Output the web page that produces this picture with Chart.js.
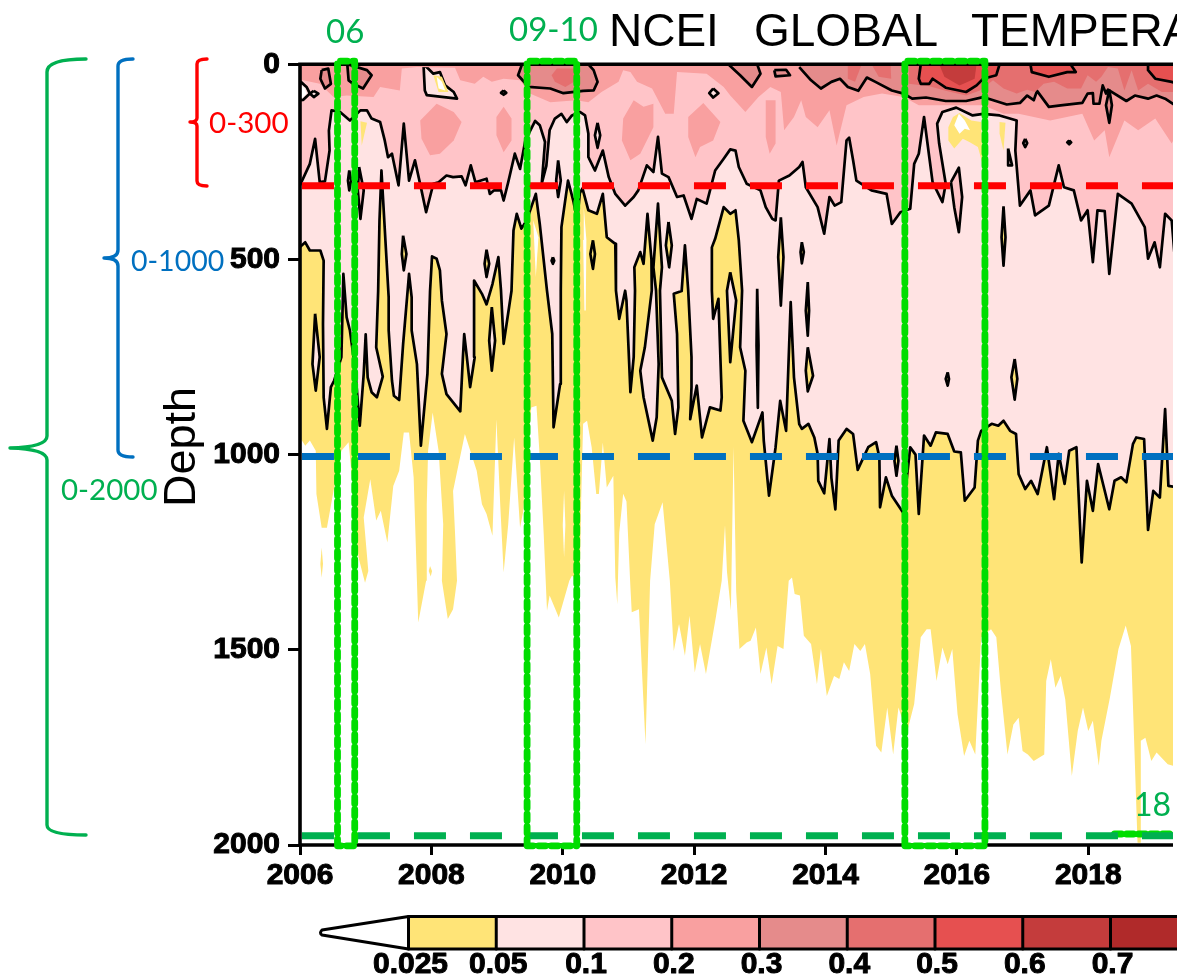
<!DOCTYPE html>
<html>
<head>
<meta charset="utf-8">
<title>NCEI GLOBAL TEMPERATURE</title>
<style>
  html, body { margin: 0; padding: 0; background: #fff; overflow: hidden; }
  canvas { display: block; }
</style>
<script src="https://cdn.jsdelivr.net/npm/chart.js@4.4.0/dist/chart.umd.min.js"></script>
</head>
<body>
<canvas id="depthChart" width="1177" height="977"></canvas>
<script>
// all pairs are [year, depth in m]
const yMax = 2019.29;
const depthTicks = [0, 500, 1000, 1500, 2000];
const barLabels = ['0.025', '0.05', '0.1', '0.2', '0.3', '0.4', '0.5', '0.6', '0.7'];
const barColors = ['#FFE477', '#FFE3E3', '#FFC4C8', '#F9A0A0', '#E58B8B', '#E56F6F', '#E65050', '#C43C3C', '#B02A2A'];

// lower edge of the yellow band (0.025 contour, no line in the picture)
const edge025 = [[2006,956],[2006.08,977],[2006.15,964],[2006.24,990],[2006.25,1101],[2006.33,1187],[2006.41,1187],[2006.51,1093],[2006.63,990],[2006.74,968],[2006.81,1093],[2006.89,1263],[2006.99,1328],[2007.04,1298],[2006.97,1161],[2007.07,1063],[2007.16,1169],[2007.23,1144],[2007.33,1225],[2007.42,1080],[2007.51,1041],[2007.58,943],[2007.66,943],[2007.73,1058],[2007.80,1430],[2007.92,1323],[2007.93,1127],[2007.95,990],[2008.02,892],[2008.11,990],[2008.18,1178],[2008.16,1323],[2008.25,1421],[2008.33,1396],[2008.39,1323],[2008.36,1200],[2008.33,1093],[2008.51,947],[2008.69,1041],[2008.77,1127],[2008.84,1152],[2008.93,1208],[2008.99,909],[2009.05,1135],[2009.10,1302],[2009.17,1178],[2009.26,956],[2009.35,1187],[2009.40,1144],[2009.52,879],[2009.60,875],[2009.65,1007],[2009.71,1204],[2009.76,1400],[2009.80,1361],[2009.94,1417],[2010.1,1323],[2010.14,1310],[2010.26,1323],[2010.28,1120],[2010.31,921],[2010.37,913],[2010.44,981],[2010.51,1101],[2010.55,1101],[2010.61,969],[2010.67,1084],[2010.77,1054],[2010.80,1315],[2010.83,1383],[2010.86,1200],[2010.92,1100],[2010.97,1120],[2011.03,1340],[2011.05,1404],[2011.16,1396],[2011.26,1742],[2011.33,1323],[2011.40,1178],[2011.52,1122],[2011.63,1323],[2011.69,1503],[2011.77,1434],[2011.86,1515],[2011.93,1413],[2012.01,1558],[2012.09,1485],[2012.18,1562],[2012.33,1417],[2012.42,1323],[2012.47,1180],[2012.50,1300],[2012.56,1400],[2012.60,980],[2012.64,1350],[2012.69,1498],[2012.80,1481],[2012.86,1477],[2012.94,1443],[2013.01,1562],[2013.10,1494],[2013.18,1588],[2013.27,1490],[2013.36,1498],[2013.44,1323],[2013.49,1315],[2013.53,1357],[2013.61,1361],[2013.67,1464],[2013.78,1485],[2013.87,1588],[2013.93,1498],[2014.02,1618],[2014.13,1567],[2014.21,1575],[2014.28,1532],[2014.36,1554],[2014.44,1485],[2014.53,1503],[2014.60,1485],[2014.68,1562],[2014.77,1746],[2014.85,1763],[2014.94,1648],[2015.03,1768],[2015.11,1648],[2015.24,1712],[2015.35,1639],[2015.45,1468],[2015.54,1447],[2015.60,1447],[2015.69,1580],[2015.78,1494],[2015.86,1537],[2015.93,1498],[2016.01,1665],[2016.11,1772],[2016.19,1733],[2016.28,1768],[2016.37,1468],[2016.52,1447],[2016.60,1468],[2016.67,1605],[2016.77,1768],[2016.86,1691],[2016.94,1674],[2017.00,1759],[2017.08,1768],[2017.17,1785],[2017.33,1768],[2017.36,1580],[2017.43,1524],[2017.50,1597],[2017.58,1567],[2017.65,1627],[2017.75,1823],[2017.84,1708],[2017.92,1648],[2018.00,1708],[2018.07,1682],[2018.16,1797],[2018.20,1733],[2018.33,1622],[2018.46,1498],[2018.57,1438],[2018.65,1490],[2018.75,1994],[2018.79,1994],[2018.80,1733],[2018.87,1725],[2018.96,1785],[2019.04,1763],[2019.21,1793],[2019.35,1800]];
const yellowBits = [
  [[2006.33,1238],[2006.35,1280],[2006.33,1315],[2006.31,1280]],
  [[2007.98,1285],[2008.01,1298],[2007.99,1312],[2007.96,1298]]
];
const whiteSlits = [
  [[2009.55,400],[2009.59,545],[2009.63,443]],
  [[2010.32,366],[2010.36,450],[2010.35,631],[2010.33,631],[2010.31,450]],
  [[2010.02,1093],[2010.04,1180],[2010.02,1263],[2010.00,1180]]
];

// 0.05 contour, pink above it and yellow below
const contour05 = [[2006,468],[2006.08,456],[2006.15,477],[2006.31,477],[2006.36,503],[2006.35,665],[2006.36,853],[2006.41,934],[2006.47,827],[2006.52,810],[2006.63,750],[2006.65,614],[2006.66,537],[2006.71,648],[2006.76,682],[2006.84,780],[2006.91,926],[2006.97,793],[2007,692],[2007.03,802],[2007.09,840],[2007.17,853],[2007.26,800],[2007.16,725],[2007.19,580],[2007.21,400],[2007.24,272],[2007.30,450],[2007.35,597],[2007.35,682],[2007.40,810],[2007.43,849],[2007.51,860],[2007.57,716],[2007.63,597],[2007.66,537],[2007.70,597],[2007.70,682],[2007.78,768],[2007.84,977],[2007.94,793],[2007.98,580],[2008.01,492],[2008.08,498],[2008.13,528],[2008.16,605],[2008.23,691],[2008.16,793],[2008.23,845],[2008.44,889],[2008.48,750],[2008.50,691],[2008.54,750],[2008.59,827],[2008.66,750],[2008.65,580],[2008.65,554],[2008.77,588],[2008.84,615],[2008.93,563],[2009.02,494],[2009.06,580],[2009.10,716],[2009.22,580],[2009.25,426],[2009.30,383],[2009.37,421],[2009.45,400],[2009.59,332],[2009.65,409],[2009.76,580],[2009.84,691],[2009.86,930],[2009.96,819],[2009.97,580],[2009.98,417],[2010.08,298],[2010.16,349],[2010.22,400],[2010.26,330],[2010.30,318],[2010.39,374],[2010.52,383],[2010.61,332],[2010.67,443],[2010.80,460],[2010.81,580],[2010.86,652],[2010.95,580],[2010.97,605],[2011.03,840],[2011.08,750],[2011.10,580],[2011.09,520],[2011.18,481],[2011.23,511],[2011.29,383],[2011.35,500],[2011.355,580],[2011.25,725],[2011.18,785],[2011.23,853],[2011.37,964],[2011.43,904],[2011.46,768],[2011.42,580],[2011.38,520],[2011.45,357],[2011.51,520],[2011.48,580],[2011.51,802],[2011.66,862],[2011.71,947],[2011.76,879],[2011.74,691],[2011.69,588],[2011.81,581],[2011.86,464],[2011.91,580],[2011.96,750],[2011.96,827],[2011.94,909],[2012.04,823],[2012.12,956],[2012.24,879],[2012.40,887],[2012.42,853],[2012.37,601],[2012.29,652],[2012.27,580],[2012.27,469],[2012.32,447],[2012.45,366],[2012.55,383],[2012.63,374],[2012.68,451],[2012.73,580],[2012.70,725],[2012.78,785],[2012.75,913],[2012.88,968],[2013.04,892],[2013.06,964],[2013.14,1105],[2013.24,981],[2013.31,862],[2013.40,939],[2013.47,609],[2013.52,802],[2013.60,922],[2013.64,934],[2013.74,921],[2013.83,956],[2013.88,998],[2013.89,1067],[2013.98,1099],[2014.06,960],[2014.09,1060],[2014.15,1140],[2014.20,964],[2014.32,934],[2014.42,947],[2014.49,1039],[2014.65,981],[2014.77,968],[2014.82,1007],[2014.83,1135],[2014.92,1058],[2015.01,1105],[2015.18,1148],[2015.29,981],[2015.37,1000],[2015.42,1152],[2015.50,951],[2015.60,977],[2015.68,943],[2015.86,947],[2015.96,992],[2016.06,994],[2016.12,1118],[2016.27,1084],[2016.32,964],[2016.37,939],[2016.53,921],[2016.63,926],[2016.71,913],[2016.81,939],[2016.90,947],[2016.94,1050],[2017.04,1088],[2017.13,1067],[2017.23,1101],[2017.37,981],[2017.48,1114],[2017.55,998],[2017.64,1075],[2017.71,990],[2017.82,981],[2017.90,1276],[2017.98,1067],[2018.07,1144],[2018.15,1024],[2018.32,1140],[2018.40,1067],[2018.50,1058],[2018.58,1071],[2018.68,973],[2018.73,956],[2018.85,960],[2018.91,1193],[2018.99,1093],[2019.09,1110],[2019.17,883],[2019.22,1080],[2019.35,1084]];
const pinkInYellow = [
  [[2006.23,639],[2006.30,750],[2006.24,836],[2006.19,768]],
  [[2008.92,622],[2008.97,708],[2008.92,785],[2008.88,708]],
  [[2012.55,533],[2012.64,605],[2012.55,763],[2012.50,580]]
];
const yellowInPink = [
  [[2007.57,439],[2007.62,486],[2007.58,528],[2007.55,486]],
  [[2008.84,475],[2008.88,511],[2008.84,545],[2008.81,511]],
  [[2009.85,494],[2009.87,503],[2009.85,511],[2009.83,503]],
  [[2010.46,451],[2010.49,486],[2010.46,524],[2010.42,486]],
  [[2011.61,404],[2011.66,464],[2011.62,520],[2011.57,464]],
  [[2013.32,392],[2013.36,494],[2013.32,618],[2013.28,494]],
  [[2013.64,456],[2013.67,481],[2013.64,510],[2013.62,481]],
  [[2012.96,575],[2012.98,720],[2012.97,880],[2012.95,720]],
  [[2013.73,558],[2013.75,631],[2013.73,695],[2013.70,631]],
  [[2013.73,725],[2013.81,798],[2013.73,838],[2013.70,785]],
  [[2016.71,364],[2016.74,443],[2016.71,516],[2016.68,443]],
  [[2015.86,789],[2015.88,806],[2015.86,823],[2015.83,806]],
  [[2016.88,755],[2016.92,806],[2016.88,859],[2016.83,802]],
  [[2015.08,977],[2015.11,1016],[2015.08,1054],[2015.05,1016]]
];

// 0.1 contour, rose above it
const contour10 = [[2006,310],[2006.15,255],[2006.23,191],[2006.30,302],[2006.38,300],[2006.45,221],[2006.44,170],[2006.48,118],[2006.61,122],[2006.76,144],[2006.92,118],[2007.02,118],[2007.09,139],[2007.22,148],[2007.29,195],[2007.34,238],[2007.40,229],[2007.50,310],[2007.58,152],[2007.66,298],[2007.75,246],[2007.85,323],[2007.92,379],[2008.03,306],[2008.11,302],[2008.23,285],[2008.33,289],[2008.46,287],[2008.52,310],[2008.60,259],[2008.67,302],[2008.84,293],[2008.89,332],[2008.95,323],[2009.06,323],[2009.10,349],[2009.17,302],[2009.27,229],[2009.35,268],[2009.43,195],[2009.58,145],[2009.65,156],[2009.73,199],[2009.68,306],[2009.75,260],[2009.80,169],[2009.88,139],[2009.98,127],[2010.06,148],[2010.14,131],[2010.26,122],[2010.34,131],[2010.39,178],[2010.39,238],[2010.49,272],[2010.61,221],[2010.70,289],[2010.80,332],[2010.95,362],[2011.08,340],[2011.15,323],[2011.28,259],[2011.38,276],[2011.45,186],[2011.51,280],[2011.61,289],[2011.74,340],[2011.84,336],[2011.96,396],[2012.04,345],[2012.19,357],[2012.32,272],[2012.45,242],[2012.55,218],[2012.63,221],[2012.68,263],[2012.80,306],[2013.01,323],[2013.09,366],[2013.19,396],[2013.24,400],[2013.29,298],[2013.45,285],[2013.60,263],[2013.65,250],[2013.70,315],[2013.88,366],[2013.98,434],[2014.06,340],[2014.14,362],[2014.24,353],[2014.32,195],[2014.36,188],[2014.42,246],[2014.47,298],[2014.70,323],[2014.93,332],[2015.01,409],[2015.14,379],[2015.29,370],[2015.35,255],[2015.42,229],[2015.50,135],[2015.58,238],[2015.63,302],[2015.78,353],[2015.83,306],[2015.73,203],[2015.70,152],[2015.78,122],[2015.99,111],[2016.24,131],[2016.40,127],[2016.65,131],[2016.91,144],[2016.89,221],[2016.96,362],[2017.12,323],[2017.19,387],[2017.40,362],[2017.55,259],[2017.63,315],[2017.78,323],[2017.89,400],[2017.99,374],[2018.07,507],[2018.14,374],[2018.25,376],[2018.32,537],[2018.45,332],[2018.66,357],[2018.86,417],[2018.91,498],[2019.01,456],[2019.09,520],[2019.17,383],[2019.27,400],[2019.35,563]];
const roseInPink = [
  [[2006.75,272],[2006.78,298],[2006.75,323],[2006.73,298]],
  [[2006.90,263],[2006.97,323],[2006.92,396],[2006.88,323]],
  [[2009.93,246],[2009.97,298],[2009.93,340],[2009.90,298]],
  [[2015.91,302],[2016.03,265],[2016.08,340],[2016.03,430],[2015.96,366]]
];
const pinkInRose = [
  [[2010.53,150],[2010.57,182],[2010.53,214],[2010.49,182]],
  [[2012.29,62],[2012.37,74],[2012.29,85],[2012.23,74]],
  [[2009.10,67],[2009.14,73],[2009.10,78],[2009.06,73]],
  [[2006.21,68],[2006.28,75],[2006.21,84],[2006.15,75]],
  [[2017.04,191],[2017.07,202],[2017.04,212],[2017.01,202]],
  [[2017.71,195],[2017.74,200],[2017.71,205],[2017.68,200]],
  [[2016.78,216],[2016.84,259],[2016.78,259]],
  [[2006,43],[2006.10,58],[2006.15,75],[2006.05,91],[2006,92]],
  [[2007.88,0],[2007.90,67],[2007.93,79],[2008.39,88],[2008.34,71],[2008.21,54],[2008.13,20],[2008.03,24],[2007.95,11]]
];
const yellowCores = [
  [[2008.03,28],[2008.16,32],[2008.26,71],[2008.11,71]],
  [[2015.87,161],[2015.94,135],[2016.04,125],[2016.22,144],[2016.37,148],[2016.39,255],[2016.32,212],[2016.19,199],[2016.09,191],[2015.96,216],[2015.87,195]],
  [[2016.65,148],[2016.74,150],[2016.71,221],[2016.65,178]],
  [[2006.92,146],[2007.02,150],[2006.94,208]]
];
const whiteCores = [
  [[2008.08,32],[2008.16,45],[2008.21,67],[2008.11,62]],
  [[2015.96,156],[2016.03,127],[2016.12,144],[2016.20,169],[2016.12,165],[2016.04,178]],
  [[2006,50],[2006.07,62],[2006.10,75],[2006.04,86],[2006,86]]
];

// 0.2 edge, no line
const edge20 = [[2006,41],[2006.05,41],[2006.30,50],[2006.51,84],[2006.71,80],[2007.12,84],[2007.22,58],[2007.52,67],[2007.55,11],[2007.78,7],[2008.36,9],[2008.44,41],[2008.66,50],[2008.79,32],[2008.92,45],[2009.10,37],[2009.35,41],[2009.50,75],[2009.81,97],[2010.21,92],[2010.39,97],[2010.59,71],[2010.85,45],[2010.92,15],[2011.03,20],[2011.13,45],[2011.36,62],[2011.56,127],[2011.69,127],[2011.74,20],[2012.19,24],[2012.45,58],[2012.55,80],[2012.78,122],[2012.98,84],[2013.16,58],[2013.32,71],[2013.37,169],[2013.52,135],[2013.63,92],[2013.70,135],[2013.88,161],[2014.06,118],[2014.17,208],[2014.32,105],[2014.58,84],[2014.86,75],[2015.19,84],[2015.42,105],[2016.40,105],[2016.71,127],[2016.94,127],[2017.42,144],[2017.91,127],[2018.09,195],[2018.25,169],[2018.32,238],[2018.55,144],[2018.76,169],[2019.02,139],[2019.27,203],[2019.35,178]];
const blobs20 = [
  [[2008.08,101],[2008.34,122],[2008.46,148],[2008.34,195],[2008.13,229],[2007.98,233],[2007.85,191],[2007.83,144]],
  [[2009.10,109],[2009.22,139],[2009.22,195],[2009.10,225],[2008.99,182],[2008.99,135]],
  [[2011.08,92],[2011.23,109],[2011.38,101],[2011.38,161],[2011.18,229],[2011.03,246],[2010.90,195],[2010.92,139]],
  [[2012.14,99],[2012.40,148],[2012.29,195],[2012.09,212],[2012.02,238],[2011.91,186],[2011.91,135]],
  [[2013.09,92],[2013.24,92],[2013.24,203],[2013.15,229],[2013.09,186]]
];

// 0.3 contour
const contour30 = [[2013.60,7],[2013.78,41],[2013.93,62],[2014.09,45],[2014.22,37],[2014.34,58],[2014.50,68],[2014.63,34],[2014.76,45],[2015.01,67],[2015.19,75],[2015.32,88],[2015.53,85],[2015.83,94],[2016.14,94],[2016.40,84],[2016.53,91],[2016.76,103],[2016.96,99],[2017.07,80],[2017.17,92],[2017.22,68],[2017.40,109],[2017.58,105],[2017.91,99],[2017.99,75],[2018.07,74],[2018.08,101],[2018.17,101],[2018.22,54],[2018.27,75],[2018.30,65],[2018.58,94],[2018.71,80],[2018.91,88],[2019.04,80],[2019.17,88],[2019.35,108]];
const blobs30 = [
  [[2006.33,15],[2006.43,11],[2006.47,50],[2006.38,62],[2006.31,37]],
  [[2006.72,0],[2007.02,15],[2007.09,28],[2006.96,62],[2006.81,50],[2006.74,41]],
  [[2009.38,0],[2009.32,28],[2009.48,58],[2009.81,62],[2010.01,74],[2010.31,68],[2010.47,67],[2010.53,45],[2010.47,15],[2010.39,0]],
  [[2012.52,0],[2012.70,28],[2012.88,58],[2013.01,24],[2012.96,0]],
  [[2013.22,15],[2013.40,14],[2013.46,28],[2013.24,31]]
];
const sliver30 = [[2018.32,65],[2018.36,105],[2018.32,150],[2018.27,105]];

// 0.4 patches, no line
const patches40 = [
  [[2009.83,28],[2009.91,11],[2010.19,11],[2010.21,41],[2010.04,58],[2009.88,45]],
  [[2014.34,0],[2014.55,0],[2014.45,45],[2014.34,37]],
  [[2014.70,0],[2014.99,0],[2015.00,37],[2014.81,32]]
];
const edge40 = [[2015.27,50],[2015.58,56],[2015.83,68],[2016.14,80],[2016.35,67],[2016.55,41],[2016.71,62],[2016.91,75],[2017.07,65],[2017.19,71],[2017.32,50],[2017.48,45],[2017.68,62],[2017.89,62],[2017.99,28],[2018.12,45],[2018.20,32],[2018.30,7],[2018.45,11],[2018.55,67],[2018.66,15],[2018.76,67],[2018.91,50],[2019.12,71],[2019.35,71]];

// 0.5 and 0.6 contours
const blobs50 = [
  [[2015.45,0],[2015.42,37],[2015.45,50],[2015.58,50],[2015.63,37],[2015.83,60],[2016.14,71],[2016.30,54],[2016.40,37],[2016.60,28],[2016.65,0]],
  [[2017.12,0],[2017.14,20],[2017.40,32],[2017.68,20],[2017.81,20],[2017.73,0]],
  [[2018.91,0],[2018.91,15],[2019.02,37],[2019.27,45],[2019.35,50],[2019.35,0]]
];
const blob60 = [[2015.73,0],[2015.81,32],[2016.04,54],[2016.27,37],[2016.30,0]];

// picked layers and boxes drawn over the section
const layerDepths = [311, 1005, 1976];
const boxSpans = [[2006.571, 2006.833], [2009.457, 2010.213], [2015.208, 2016.427]];
const box18 = [[2018.40, 1972], [yMax, 1972]];

// ---- datasets
const datasets = [];
function toSurface(edge) {
  return edge.concat([[edge[edge.length - 1][0], -10], [edge[0][0], -10]]);
}
function closed(shape) {
  return shape.concat([shape[0]]);
}
function area(points, color, line) {
  datasets.push({
    data: points,
    showLine: true,
    pointRadius: 0,
    fill: 'shape',
    backgroundColor: color,
    borderColor: '#000',
    borderWidth: line ? 2.7 : 0,
    borderJoinStyle: 'round',
    tension: 0
  });
}
function stroke(points, color, width, extra) {
  datasets.push(Object.assign({
    data: points,
    showLine: true,
    pointRadius: 0,
    fill: false,
    borderColor: color,
    borderWidth: width,
    clip: false,
    tension: 0
  }, extra || {}));
}

const [c025, c05, c10, c20, c30, c40, c50, c60] = barColors;

// painted from the bottom up
area(toSurface(edge025), c025);
whiteSlits.forEach(s => area(closed(s), '#fff'));
yellowBits.forEach(s => area(closed(s), c025));
area(toSurface(contour05), c05, true);
pinkInYellow.forEach(s => area(closed(s), c05, true));
yellowInPink.forEach(s => area(closed(s), c025, true));
area(toSurface(contour10), c10, true);
roseInPink.forEach(s => area(closed(s), c10, true));
pinkInRose.forEach(s => area(closed(s), c05, true));
yellowCores.forEach(s => area(closed(s), c025));
whiteCores.forEach(s => area(closed(s), '#fff'));
area(toSurface(edge20), c20);
blobs20.forEach(s => area(closed(s), c20));
area(toSurface(contour30), c30, true);
blobs30.forEach(s => area(closed(s), c30, true));
area(closed(sliver30), c30, true);
area(toSurface(edge40), c40);
patches40.forEach(s => area(closed(s), c40));
blobs50.forEach(s => area(closed(s), c50, true));
area(toSurface(blob60), c60);

// frame, left open on the right like the picture
stroke([[yMax, 2000], [2006, 2000], [2006, 0], [yMax, 0]], '#000', 3.6);

const layerColors = ['#FF0000', '#0070C0', '#00B050'];
stroke(box18, '#00DD00', 7, { borderDash: [7, 5], borderCapStyle: 'round' });
layerDepths.forEach((d, i) => {
  stroke([[2006.03, d], [yMax, d]], layerColors[i], 7, { borderDash: [32, 24] });
});
boxSpans.forEach(([a, b]) => {
  stroke([[a, 2002], [a, -8], [b, -8], [b, 2002], [a, 2002]], '#00DD00', 6.8, {
    borderDash: [7, 5.5], borderCapStyle: 'round', borderJoinStyle: 'round'
  });
});

// later entries go on top
datasets.forEach((d, i) => { d.order = datasets.length - i; });

// ---- everything outside the axes
function bracketPath(ctx, pts, color) {
  ctx.strokeStyle = color;
  ctx.lineWidth = 3.4;
  ctx.lineCap = 'round';
  ctx.lineJoin = 'round';
  ctx.beginPath();
  pts.forEach((p, i) => {
    if (i === 0) ctx.moveTo(p[0], p[1]);
    else if (p.length === 4) ctx.quadraticCurveTo(p[0], p[1], p[2], p[3]);
    else ctx.lineTo(p[0], p[1]);
  });
  ctx.stroke();
}
function label(ctx, text, x, y, color, font, align) {
  ctx.fillStyle = color;
  ctx.font = font;
  ctx.textAlign = align || 'left';
  ctx.textBaseline = 'middle';
  ctx.fillText(text, x, y);
}

const overlay = {
  id: 'overlay',
  afterDraw(chart) {
    const ctx = chart.ctx;
    ctx.save();

    // title, runs off the page in the reference too
    ctx.fillStyle = '#000';
    ctx.font = '46px "Liberation Sans"';
    ctx.textAlign = 'left';
    ctx.textBaseline = 'alphabetic';
    ctx.fillText('NCEI', 609, 46);
    ctx.fillText('GLOBAL', 754, 46);
    ctx.fillText('TEMPERA', 971, 46);

    ctx.save();
    ctx.translate(195, 447);
    ctx.rotate(-Math.PI / 2);
    ctx.font = '45px "Liberation Sans"';
    ctx.textAlign = 'center';
    ctx.fillText('Depth', 0, 0);
    ctx.restore();

    // brackets for the three layers
    bracketPath(ctx, [[86, 59], [47, 59, 47, 72], [47, 436], [47, 447, 10, 448], [47, 449, 47, 460], [47, 825], [47, 835, 86, 835]], '#00B050');
    bracketPath(ctx, [[133, 59], [118, 59, 118, 66], [118, 250], [118, 258, 104, 258], [118, 258, 118, 266], [118, 450], [118, 457, 133, 457]], '#0070C0');
    bracketPath(ctx, [[207, 59], [197, 59, 197, 64], [197, 118], [197, 122, 190, 122], [197, 122, 197, 126], [197, 181], [197, 186, 207, 186]], '#FF0000');

    label(ctx, '0-300', 209, 123, '#FF0000', '29.6px Lato');
    label(ctx, '0-1000', 131, 262, '#0070C0', '28.5px Lato');
    label(ctx, '0-2000', 61, 490, '#00B050', '29.5px Lato');
    label(ctx, '06', 326, 32, '#00B050', '33px Lato');
    label(ctx, '09-10', 509, 30, '#00B050', '33px Lato');
    label(ctx, '18', 1134, 806, '#00B050', '32px Lato');

    // colour bar
    const barX = 408.5, step = 87.75, top = 916.5, bottom = 949;
    barColors.forEach((c, i) => {
      ctx.fillStyle = c;
      ctx.fillRect(barX + i * step, top, step, bottom - top);
    });
    ctx.strokeStyle = '#000';
    ctx.lineWidth = 3;
    ctx.lineJoin = 'round';
    ctx.beginPath();
    ctx.moveTo(barX + barColors.length * step, top);
    ctx.lineTo(barX, top);
    ctx.lineTo(322, 930);
    ctx.quadraticCurveTo(319, 933, 322, 935);
    ctx.lineTo(barX, bottom);
    ctx.lineTo(barX + barColors.length * step, bottom);
    ctx.stroke();
    barColors.forEach((c, i) => {
      ctx.beginPath();
      ctx.moveTo(barX + i * step, top);
      ctx.lineTo(barX + i * step, bottom);
      ctx.stroke();
    });
    ctx.lineWidth = 1;
    barLabels.forEach((t, i) => {
      label(ctx, t, barX + i * step + 2, 965, '#000', 'bold 30px "Liberation Sans"', 'center');
      ctx.strokeText(t, barX + i * step + 2, 965);
    });
    ctx.restore();
  }
};

new Chart(document.getElementById('depthChart'), {
  type: 'scatter',
  data: { datasets },
  plugins: [overlay],
  options: {
    responsive: false,
    animation: false,
    devicePixelRatio: 1,
    layout: { padding: { left: 0, top: 64.3, right: 4, bottom: 92 } },
    plugins: { legend: { display: false }, tooltip: { enabled: false }, title: { display: false } },
    scales: {
      x: {
        type: 'linear',
        min: 2006,
        max: yMax,
        afterFit(scale) { scale.height = 40; },
        border: { display: false },
        grid: { drawOnChartArea: false, drawTicks: true, tickLength: 10, tickWidth: 3, tickColor: '#000' },
        ticks: {
          stepSize: 2,
          includeBounds: false,
          maxRotation: 0,
          autoSkip: false,
          padding: 3,
          color: '#000',
          textStrokeColor: '#000',
          textStrokeWidth: 1,
          font: { family: '"Liberation Sans"', size: 30, weight: 'bold' },
          callback: v => String(v)
        }
      },
      y: {
        type: 'linear',
        reverse: true,
        min: depthTicks[0],
        max: depthTicks[depthTicks.length - 1],
        afterFit(scale) { scale.width = 300; },
        afterBuildTicks(scale) { scale.ticks = depthTicks.map(value => ({ value })); },
        border: { display: false },
        grid: { drawOnChartArea: false, drawTicks: true, tickLength: 12, tickWidth: 3, tickColor: '#000' },
        ticks: {
          padding: 8,
          color: '#000',
          textStrokeColor: '#000',
          textStrokeWidth: 1,
          font: { family: '"Liberation Sans"', size: 30, weight: 'bold' },
          callback: v => String(v)
        }
      }
    }
  }
});
</script>
</body>
</html>
